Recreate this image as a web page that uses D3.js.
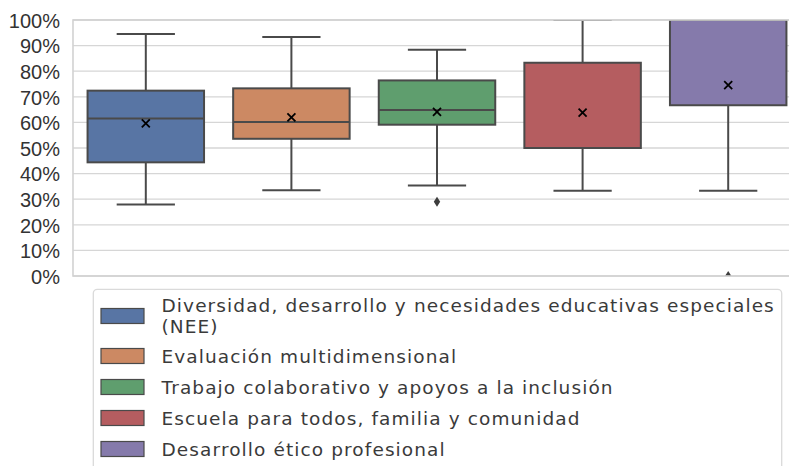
<!DOCTYPE html>
<html lang="es">
<head>
<meta charset="UTF-8" />
<title>Boxplot dimensiones</title>
<script src="https://d3js.org/d3.v7.min.js"></script>
<style>
  body { margin: 0; background: #fff; }
  svg { display: block; }
  .tick-label { font-family: 'Liberation Sans', Arial, sans-serif; font-size: 20px; fill: #333; }
  .legend-text { font-family: 'DejaVu Sans', sans-serif; font-size: 18.5px; letter-spacing: 1.1px; fill: #3a3a3a; }
</style>
</head>
<body>
<div id="chart"></div>
<script>
// data (proportions)
const categories = [
  ['Diversidad, desarrollo y necesidades educativas especiales', '(NEE)'],
  ['Evaluación multidimensional'],
  ['Trabajo colaborativo y apoyos a la inclusión'],
  ['Escuela para todos, familia y comunidad'],
  ['Desarrollo ético profesional']
];
const whiskerLow  = [0.279, 0.335, 0.354, 0.333, 0.333];
const q1          = [0.444, 0.536, 0.591, 0.500, 0.667];
const medians     = [0.615, 0.602, 0.648, 0.500, 1.000];
const q3          = [0.724, 0.733, 0.764, 0.833, 1.000];
const whiskerHigh = [0.945, 0.934, 0.884, 1.000, 1.000];
const means       = [0.596, 0.620, 0.641, 0.638, 0.746];
const outliers    = [[], [], [0.290], [], [0.0]];
const yTicks = [0, 0.1, 0.2, 0.3, 0.4, 0.5, 0.6, 0.7, 0.8, 0.9, 1.0];
const colors = ['#5875a4', '#cc8963', '#5f9e6e', '#b55d60', '#857aab'];

const W = 789, H = 466;
const plot = { left: 73, right: 801, top: 20, bottom: 276 };
const edge = '#4a4a4a';

const svg = d3.select('#chart').append('svg')
  .attr('width', W).attr('height', H);

const keys = d3.range(categories.length);
const x = d3.scaleBand().domain(keys).range([plot.left, plot.right]);
const y = d3.scaleLinear().domain([0, 1]).range([plot.bottom, plot.top]);
const boxW = x.bandwidth() * 0.8;

svg.append('defs').append('clipPath').attr('id', 'plotclip')
  .append('rect')
  .attr('x', plot.left).attr('y', plot.top)
  .attr('width', plot.right - plot.left).attr('height', plot.bottom - plot.top);

// grid
svg.append('g').selectAll('line').data(yTicks).join('line')
  .attr('x1', plot.left).attr('x2', plot.right)
  .attr('y1', d => y(d)).attr('y2', d => y(d))
  .attr('stroke', '#d6d6d6').attr('stroke-width', 1.3);

// y axis labels
const yAxis = d3.axisLeft(y).tickValues(yTicks).tickFormat(d3.format('.0%')).tickSize(0).tickPadding(13);
const ga = svg.append('g').attr('transform', `translate(${plot.left},0)`).call(yAxis);
ga.select('.domain').remove();
ga.selectAll('text').attr('class', 'tick-label').attr('dy', '0.36em');

// boxes
const g = svg.append('g').attr('clip-path', 'url(#plotclip)');
keys.forEach(i => {
  const cx = x(i) + x.bandwidth() / 2;
  const capW = boxW / 2;
  const bg = g.append('g');
  // whiskers
  bg.append('line').attr('x1', cx).attr('x2', cx)
    .attr('y1', y(q3[i])).attr('y2', y(whiskerHigh[i]))
    .attr('stroke', edge).attr('stroke-width', 2);
  bg.append('line').attr('x1', cx).attr('x2', cx)
    .attr('y1', y(q1[i])).attr('y2', y(whiskerLow[i]))
    .attr('stroke', edge).attr('stroke-width', 2);
  [whiskerHigh[i], whiskerLow[i]].forEach(v => {
    bg.append('line').attr('x1', cx - capW / 2).attr('x2', cx + capW / 2)
      .attr('y1', y(v)).attr('y2', y(v))
      .attr('stroke', edge).attr('stroke-width', 2);
  });
  bg.append('rect')
    .attr('x', cx - boxW / 2).attr('width', boxW)
    .attr('y', y(q3[i])).attr('height', y(q1[i]) - y(q3[i]))
    .attr('fill', colors[i]).attr('stroke', edge).attr('stroke-width', 2);
  bg.append('line').attr('x1', cx - boxW / 2).attr('x2', cx + boxW / 2)
    .attr('y1', y(medians[i])).attr('y2', y(medians[i]))
    .attr('stroke', edge).attr('stroke-width', 2);
  // outliers
  outliers[i].forEach(v => {
    const oy = y(v);
    bg.append('path')
      .attr('d', `M${cx},${oy - 5}L${cx + 3.2},${oy}L${cx},${oy + 5}L${cx - 3.2},${oy}Z`)
      .attr('fill', '#3d3d3d');
  });
  // mean marker
  const my = y(means[i]), s = 4;
  bg.append('path')
    .attr('d', `M${cx - s},${my - s}L${cx + s},${my + s}M${cx - s},${my + s}L${cx + s},${my - s}`)
    .attr('stroke', '#000').attr('stroke-width', 1.8).attr('fill', 'none');
});

// frame
svg.append('rect')
  .attr('x', plot.left).attr('y', plot.top)
  .attr('width', plot.right - plot.left).attr('height', plot.bottom - plot.top)
  .attr('fill', 'none').attr('stroke', '#d2d2d2').attr('stroke-width', 1.6);

// legend
const leg = svg.append('g');
leg.append('rect')
  .attr('x', 93.3).attr('y', 289.3).attr('width', 688.4).attr('height', 200)
  .attr('rx', 4).attr('fill', '#fff').attr('stroke', '#dadada').attr('stroke-width', 1.3);

const rowY = [316, 356, 387, 418, 449];
const lineH = 21;
keys.forEach(i => {
  const lines = categories[i];
  leg.append('rect')
    .attr('x', 101).attr('y', rowY[i] - 7.5).attr('width', 43).attr('height', 15)
    .attr('fill', colors[i]).attr('stroke', edge).attr('stroke-width', 1.2);
  const t = leg.append('text').attr('class', 'legend-text')
    .attr('x', 161.5)
    .attr('y', rowY[i] - (lines.length - 1) * lineH / 2)
    .attr('dy', '0.36em');
  lines.forEach((l, k) => {
    t.append('tspan').attr('x', 161.5).attr('dy', k === 0 ? '0.36em' : lineH).text(l);
  });
});
</script>
</body>
</html>
